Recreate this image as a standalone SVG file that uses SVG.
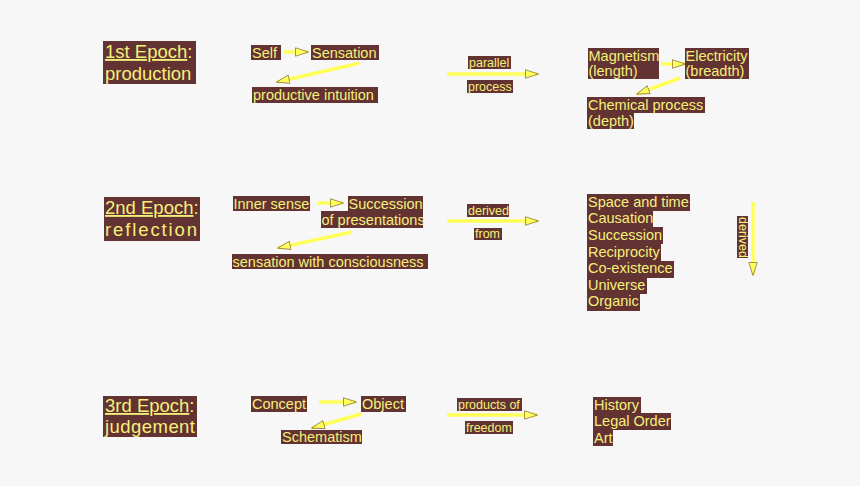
<svg xmlns="http://www.w3.org/2000/svg" width="860" height="486" viewBox="0 0 860 486">
<defs>
<style>
.bg{fill:#633232}
.t{font-family:"Liberation Sans",Arial,sans-serif;fill:#f5f07a;font-size:14.5px}
.big{font-size:18.5px}
.sm{font-size:12.5px}
.u{text-decoration:underline}
.e{stroke:#ffff5a;stroke-width:3.5;fill:none;marker-end:url(#ah)}
</style>
<marker id="ah" markerUnits="userSpaceOnUse" markerWidth="14" markerHeight="10" viewBox="0 0 14 10" refX="13" refY="5" orient="auto">
<path d="M0.5,0.8 L13.5,5 L0.5,9.2 Z" fill="#ffff5a" stroke="#6a4a2a" stroke-width="0.6"/>
</marker>
</defs>
<rect width="860" height="486" fill="#f7f7f7"/>

<g id="connectors">
<line class="e" x1="284" y1="52" x2="308" y2="52"/>
<line class="e" x1="360" y1="63" x2="277" y2="82"/>
<line class="e" x1="447" y1="74" x2="538" y2="74"/>
<line class="e" x1="661" y1="64" x2="685" y2="64"/>
<line class="e" x1="680" y1="78" x2="637" y2="94"/>
<line class="e" x1="318" y1="203" x2="343" y2="203"/>
<line class="e" x1="352" y1="232" x2="278" y2="248"/>
<line class="e" x1="447" y1="221" x2="538" y2="221"/>
<line class="e" x1="753" y1="202" x2="753" y2="275"/>
<line class="e" x1="319" y1="402" x2="356" y2="402"/>
<line class="e" x1="361" y1="414" x2="312" y2="428"/>
<line class="e" x1="447" y1="415" x2="537" y2="415"/>
</g>

<g id="epoch1">
<rect class="bg" x="103" y="41" width="93" height="43"/>
<text class="t big" x="105" y="58"><tspan class="u">1st Epoch</tspan>:</text>
<text class="t big" x="105" y="80">production</text>
</g>
<g id="self">
<rect class="bg" x="251" y="45" width="30" height="15"/>
<text class="t" x="252" y="57.5">Self</text>
</g>
<g id="sensation">
<rect class="bg" x="311" y="45" width="68" height="15"/>
<text class="t" x="312" y="57.5">Sensation</text>
</g>
<g id="productive-intuition">
<rect class="bg" x="252" y="87" width="126" height="16"/>
<text class="t" x="253" y="99.5">productive intuition</text>
</g>
<g id="parallel-label">
<rect class="bg" x="468" y="56" width="43" height="13"/>
<text class="t sm" x="469" y="66.5">parallel</text>
<rect class="bg" x="467" y="80" width="46" height="13"/>
<text class="t sm" x="468" y="90.5">process</text>
</g>
<g id="magnetism">
<rect class="bg" x="588" y="48" width="71" height="31"/>
<text class="t" x="588.5" y="60.5">Magnetism</text>
<text class="t" x="588.5" y="76">(length)</text>
</g>
<g id="electricity">
<rect class="bg" x="685" y="48" width="64" height="31"/>
<text class="t" x="685.5" y="60.5">Electricity</text>
<text class="t" x="685.5" y="76">(breadth)</text>
</g>
<g id="chemical">
<rect class="bg" x="587" y="97" width="118" height="16"/>
<rect class="bg" x="587" y="113" width="47" height="16"/>
<text class="t" x="588" y="109.5">Chemical process</text>
<text class="t" x="588" y="125.5">(depth)</text>
</g>

<g id="epoch2">
<rect class="bg" x="104" y="197" width="96" height="44"/>
<text class="t big" x="105" y="214"><tspan class="u">2nd Epoch</tspan>:</text>
<text class="t big" x="105" y="236" textLength="92" lengthAdjust="spacing">reflection</text>
</g>
<g id="inner-sense">
<rect class="bg" x="233" y="196" width="77" height="15"/>
<text class="t" x="233.5" y="208.5">Inner sense</text>
</g>
<g id="succession">
<rect class="bg" x="348" y="196" width="75" height="15"/>
<rect class="bg" x="321" y="211" width="102" height="17"/>
<text class="t" x="348.5" y="208.5">Succession</text>
<text class="t" x="321.5" y="224.5">of presentations</text>
</g>
<g id="sensation-consciousness">
<rect class="bg" x="232" y="254" width="196" height="15"/>
<text class="t" x="232.5" y="266.5">sensation with consciousness</text>
</g>
<g id="derived-label">
<rect class="bg" x="467" y="204" width="42" height="13"/>
<text class="t sm" x="468" y="214.5">derived</text>
<rect class="bg" x="474" y="228" width="28" height="12"/>
<text class="t sm" x="475" y="238">from</text>
</g>
<g id="categories">
<rect class="bg" x="587" y="194" width="103" height="17"/>
<rect class="bg" x="587" y="211" width="66" height="17"/>
<rect class="bg" x="587" y="227" width="76" height="17"/>
<rect class="bg" x="587" y="244" width="74" height="17"/>
<rect class="bg" x="587" y="261" width="87" height="17"/>
<rect class="bg" x="587" y="277" width="60" height="17"/>
<rect class="bg" x="587" y="294" width="53" height="17"/>
<text class="t" x="588" y="206.5">Space and time</text>
<text class="t" x="588" y="223">Causation</text>
<text class="t" x="588" y="239.5">Succession</text>
<text class="t" x="588" y="256.5">Reciprocity</text>
<text class="t" x="588" y="273">Co-existence</text>
<text class="t" x="588" y="289.5">Universe</text>
<text class="t" x="588" y="306">Organic</text>
</g>
<g id="derived-vertical">
<rect class="bg" x="737" y="216" width="11" height="42"/>
<text class="t sm" x="739" y="217" transform="rotate(90 739 217)">derived</text>
</g>

<g id="epoch3">
<rect class="bg" x="103" y="396" width="94" height="41"/>
<text class="t big" x="105" y="412"><tspan class="u">3rd Epoch</tspan>:</text>
<text class="t big" x="105" y="433" textLength="90" lengthAdjust="spacing">judgement</text>
</g>
<g id="concept">
<rect class="bg" x="251" y="396" width="56" height="16"/>
<text class="t" x="252" y="408.5">Concept</text>
</g>
<g id="object">
<rect class="bg" x="361" y="396" width="45" height="16"/>
<text class="t" x="362" y="408.5">Object</text>
</g>
<g id="schematism">
<rect class="bg" x="281" y="430" width="81" height="14"/>
<text class="t" x="282" y="442">Schematism</text>
</g>
<g id="products-label">
<rect class="bg" x="457" y="398" width="65" height="13"/>
<text class="t sm" x="458" y="408.5">products of</text>
<rect class="bg" x="465" y="421" width="48" height="13"/>
<text class="t sm" x="466" y="431.5">freedom</text>
</g>
<g id="history">
<rect class="bg" x="593" y="397" width="48" height="16"/>
<rect class="bg" x="593" y="413" width="78" height="17"/>
<rect class="bg" x="593" y="430" width="20" height="16"/>
<text class="t" x="594" y="409.5">History</text>
<text class="t" x="594" y="426">Legal Order</text>
<text class="t" x="594" y="442.5">Art</text>
</g>
</svg>
